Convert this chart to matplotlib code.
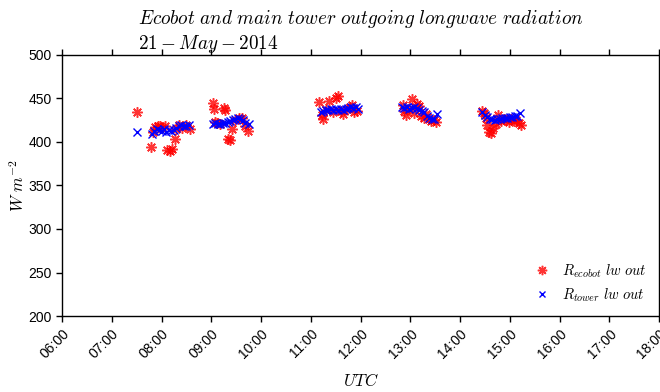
import datetime as dt
import matplotlib
matplotlib.use("Agg")
import matplotlib.pyplot as plt
import matplotlib.dates as mdates

plt.rcParams["mathtext.fontset"] = "cm"
plt.rcParams["font.family"] = ["Liberation Sans", "DejaVu Sans"]

# Decimal UTC hours and longwave radiation (W m^-2)
ecobot_hours = [7.50, 7.78, 7.83, 7.87, 7.92, 7.97, 8.02, 8.07, 8.12, 8.17, 8.22, 8.27, 8.30, 8.35, 8.42, 8.50, 8.58,
                9.03, 9.05, 9.07, 9.12, 9.18, 9.25, 9.28, 9.33, 9.38, 9.42, 9.48, 9.55, 9.62, 9.68, 9.73,
                11.17, 11.22, 11.25, 11.30, 11.37, 11.45, 11.50, 11.55, 11.60, 11.65, 11.72, 11.78, 11.83, 11.87, 11.93,
                12.85, 12.88, 12.92, 12.98, 13.03, 13.08, 13.13, 13.17, 13.22, 13.27, 13.32, 13.37, 13.42, 13.47, 13.52,
                14.45, 14.48, 14.52, 14.55, 14.58, 14.62, 14.67, 14.72, 14.77, 14.82, 14.88, 14.93, 14.98, 15.03, 15.08,
                15.13, 15.18, 15.22]
ecobot_lw = [435, 394, 412, 417, 418, 418, 416, 418, 391, 390, 392, 404, 415, 420, 416, 419, 415,
             445, 438, 423, 422, 421, 439, 437, 403, 402, 415, 425, 428, 428, 418, 413,
             446, 431, 426, 437, 447, 434, 451, 453, 436, 432, 438, 440, 442, 434, 436,
             442, 436, 431, 438, 449, 433, 444, 441, 430, 428, 432, 427, 424, 425, 423,
             436, 433, 428, 420, 412, 410, 416, 421, 431, 424, 427, 425, 423, 426, 424,
             425, 422, 420]

tower_hours = [7.50, 7.80, 7.85, 7.90, 7.95, 8.00, 8.05, 8.10, 8.15, 8.20, 8.25, 8.30, 8.35, 8.40, 8.45, 8.50, 8.55,
               9.03, 9.08, 9.13, 9.18, 9.23, 9.28, 9.33, 9.38, 9.43, 9.48, 9.53, 9.58, 9.63, 9.68, 9.75,
               11.20, 11.25, 11.30, 11.35, 11.40, 11.45, 11.50, 11.55, 11.60, 11.65, 11.70, 11.75, 11.80, 11.85,
               11.90, 11.95,
               12.83, 12.88, 12.93, 12.98, 13.03, 13.08, 13.13, 13.18, 13.23, 13.28, 13.33, 13.38, 13.43, 13.48, 13.53,
               14.45, 14.50, 14.55, 14.60, 14.65, 14.70, 14.75, 14.80, 14.85, 14.90, 14.95, 15.00, 15.05, 15.10,
               15.15, 15.20]
tower_lw = [411, 409, 413, 415, 414, 413, 415, 412, 414, 413, 414, 416, 418, 419, 418, 418, 419,
            421, 422, 421, 421, 422, 422, 423, 424, 425, 427, 428, 427, 425, 422, 421,
            435, 436, 437, 437, 438, 437, 438, 437, 438, 437, 438, 439, 440, 439,
            440, 438,
            440, 439, 440, 438, 439, 440, 439, 437, 436, 434, 430, 428, 426, 427, 432,
            434, 431, 429, 427, 426, 425, 426, 427, 428, 428, 428, 429, 429, 430,
            430, 433]

day = dt.datetime(2014, 5, 21)


def to_time(hours):
    return [day + dt.timedelta(hours=h) for h in hours]


fig = plt.figure(figsize=(6.6, 3.92), dpi=100)
ax = fig.add_axes([62 / 660, 1 - 316 / 392, (659 - 62) / 660, (316 - 55) / 392])

ax.plot(to_time(ecobot_hours), ecobot_lw, linestyle="none", marker=(8, 2, 0), markersize=7.5,
        markeredgewidth=1.1, color="red", alpha=0.8, label=r"$R_{ecobot}\ lw\ out$")
ax.plot(to_time(tower_hours), tower_lw, linestyle="none", marker="x", markersize=5.5,
        markeredgewidth=1.0, color="blue", label=r"$R_{tower}\ lw\ out$")

ax.set_xlim(day + dt.timedelta(hours=6), day + dt.timedelta(hours=18))
ax.set_ylim(200, 500)
ax.set_yticks(range(200, 501, 50))
ax.xaxis.set_major_locator(mdates.HourLocator(interval=1))
ax.xaxis.set_major_formatter(mdates.DateFormatter("%H:%M"))
for lbl in ax.get_xticklabels():
    lbl.set_rotation(45)
    lbl.set_ha("right")
    lbl.set_rotation_mode("anchor")

ax.tick_params(direction="out", length=4, width=1, labelsize=10, top=True, right=True)
for s in ax.spines.values():
    s.set_linewidth(1.0)

ax.set_xlabel(r"$UTC$", fontsize=12, labelpad=8)
ax.set_ylabel(r"$W\ m^{-2}$", fontsize=12, labelpad=1)
ax.set_title(r"$Ecobot\ and\ main\ tower\ outgoing\ longwave\ radiation$" + "\n" + r"$21-May-2014$",
             fontsize=13.8, multialignment="left", pad=4)

ax.legend(loc="lower right", frameon=False, fontsize=10.5, handletextpad=0.35, markerscale=0.9,
          borderaxespad=0.45, labelspacing=0.45)

fig.savefig("out.png", dpi=100)
